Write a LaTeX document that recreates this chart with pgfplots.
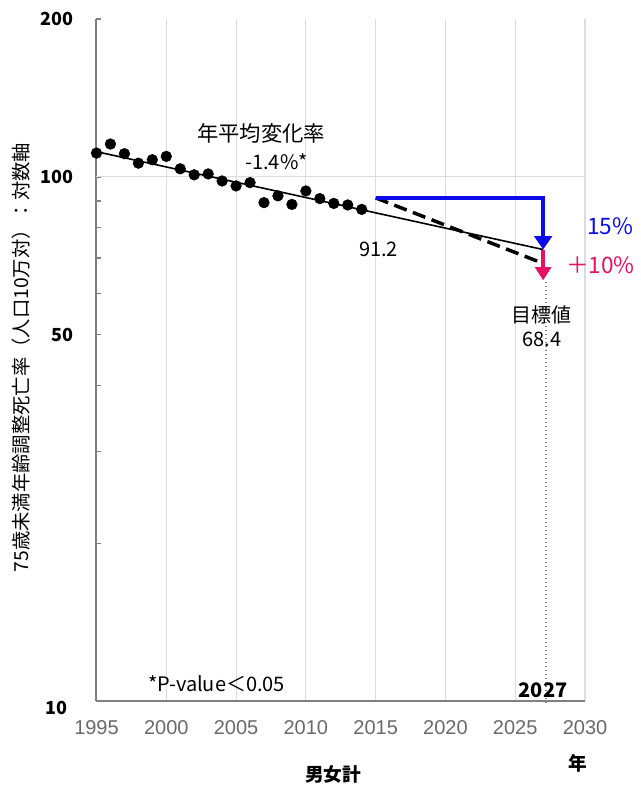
\documentclass[border=0pt]{standalone}
\usepackage{pgfplots}
\pgfplotsset{compat=1.18}
\usetikzlibrary{arrows.meta}
\usepackage{fontspec}
\setmainfont{Noto Sans CJK JP}
\newfontfamily\arialfont{Liberation Sans}

\definecolor{gridgray}{RGB}{220,220,220}
\definecolor{axisgray}{RGB}{128,128,128}
\definecolor{ticklabelgray}{RGB}{105,105,105}
\definecolor{arrowblue}{RGB}{12,12,235}
\definecolor{arrowred}{RGB}{232,16,100}

\newcommand\fs[1]{\fontsize{#1}{#1}\selectfont}

\begin{document}
\begin{tikzpicture}
% page frame (1 unit = 0.75pt)
\path[use as bounding box, x=0.75pt, y=0.75pt] (-96.5,-83.5) rectangle (543.5,701.5);

\begin{axis}[
  at={(0,0)}, anchor=south west,
  scale only axis, width=366.4pt, height=511.9pt,
  ymode=log,
  xmin=1995, xmax=2030, ymin=10, ymax=200,
  clip=false,
  axis x line=bottom, axis y line=left,
  axis line style={-},
  x axis line style={axisgray, line width=1.5pt},
  y axis line style={axisgray, line width=1.5pt},
  xtick={1995,2000,2005,2010,2015,2020,2025,2030},
  xticklabels={1995,2000,2005,2010,2015,2020,2025,2030},
  xtick style={draw=none},
  xmajorgrids, grid style={gridgray, line width=0.8pt},
  xticklabel style={font=\arialfont\fs{15pt}, text=ticklabelgray, yshift=-11pt},
  ytick={10,20,30,40,50,60,70,80,90,100,200},
  yticklabels={,,,,50,,,,,100,200},
  ytick style={axisgray, line width=1pt},
  tick align=inside, major tick length=3.75pt,
  yticklabel style={font=\bfseries\fs{13.5pt}, text=black, xshift=-13.5pt},
]

% reference line at 100
\addplot[gridgray, line width=0.8pt, forget plot] coordinates {(1995,100) (2030,100)};

% observed rates
\addplot[only marks, mark=*, mark size=4pt, black] coordinates {
  (1995,111.0) (1996,115.5) (1997,110.7) (1998,106.2) (1999,107.8)
  (2000,109.4) (2001,103.6) (2002,100.9) (2003,101.3) (2004,98.2)
  (2005,96.1)  (2006,97.5)  (2007,89.3)  (2008,92.0)  (2009,88.6)
  (2010,94.0)  (2011,90.9)  (2012,89.0)  (2013,88.4)  (2014,86.7)
};

% log-linear trend, -1.4% per year
\addplot[black, line width=1.2pt] coordinates {(1995,111.7) (2027,72.7)};

% path to the target
\addplot[black, line width=2.6pt, dash pattern=on 10pt off 5pt] coordinates {(2015,91.2) (2027,68.4)};

% trend reduction (15%)
\addplot[arrowblue, line width=2.6pt, -{Triangle[width=13pt,length=10pt]}]
  coordinates {(2015,91.2) (2027,91.2) (2027,72.7)};

% additional reduction (+10%)
\addplot[arrowred, line width=2.6pt, -{Triangle[width=12pt,length=10pt]}]
  coordinates {(2027,72.7) (2027,63.5)};

% target year marker
\addplot[gray, dotted, line width=1pt] coordinates {(2027.2,63) (2027.2,9.8)};

\node[font=\fs{16pt}] at (axis cs:2006.8,120.9) {年平均変化率};
\node[font=\fs{15pt}] at (axis cs:2007.9,106.8) {-1.4\%*};
\node[font=\fs{15pt}] at (axis cs:2015.2,72.8) {91.2};
\node[font=\fs{17pt}, text=arrowblue] at (axis cs:2031.8,80.5) {15\%};
\node[font=\fs{17pt}, text=arrowred] at (axis cs:2031.1,67.8) {＋10\%};
\node[font=\fs{15pt}] at (axis cs:2026.9,54.6) {目標値};
\node[font=\fs{15pt}] at (axis cs:2026.9,49.1) {68.4};
\node[font=\fs{15pt}] at (axis cs:2003.6,10.8) {*P-value＜0.05};
\node[font=\bfseries\fs{15pt}, anchor=center] at (axis cs:2027,10) [yshift=8.1pt] {2027};
% lowest y tick label sits a little below its tick
\node[font=\bfseries\fs{13.5pt}, anchor=east] at (axis cs:1995,10) [xshift=-18pt, yshift=-5pt] {10};
\end{axis}

% axis titles
\node[rotate=90, font=\fs{14.5pt}] at (-56.6pt,258pt) {75歳未満年齢調整死亡率（人口10万対）：対数軸};
\node[font=\bfseries\fs{14pt}] at (177.4pt,-54.4pt) {男女計};
\node[font=\bfseries\fs{14pt}] at (361.1pt,-46.1pt) {年};
\end{tikzpicture}
\end{document}
